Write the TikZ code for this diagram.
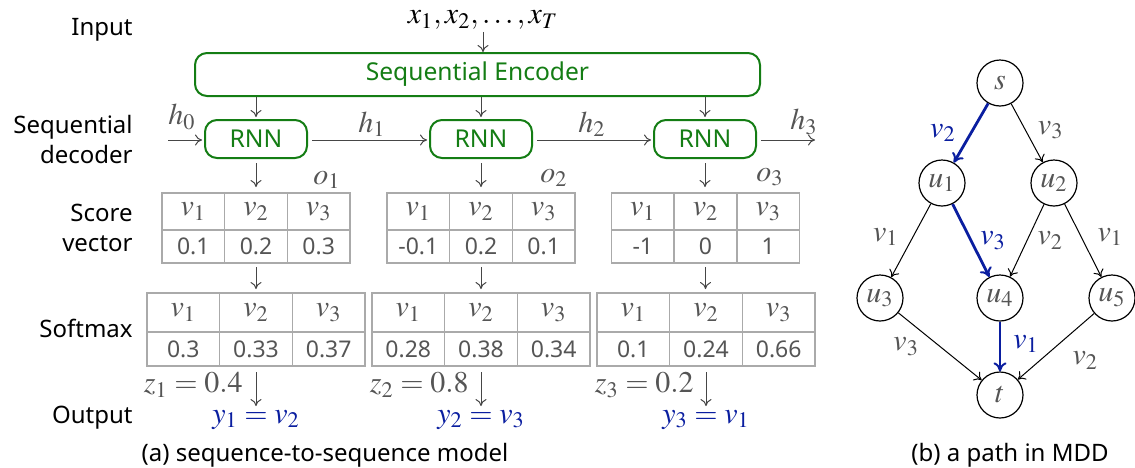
\documentclass[tikz,border=0pt]{standalone}
\usepackage{mathptmx}
\usepackage[no-math]{fontspec}
\setmainfont{Noto Sans}
\usetikzlibrary{arrows.meta,calc}
\definecolor{grn}{RGB}{20,125,20}
\definecolor{pathblue}{RGB}{10,30,160}
\definecolor{txtgray}{RGB}{85,85,85}
\definecolor{linegray}{RGB}{170,170,170}
\definecolor{arrgray}{RGB}{70,70,70}
\tikzset{
  lbl/.style={font=\fontsize{12}{15}\selectfont, anchor=east, align=right, inner sep=0pt},
  mth/.style={font=\fontsize{15}{17}\selectfont, text=txtgray, inner sep=1pt},
  bluemth/.style={font=\fontsize{15}{17}\selectfont, text=pathblue, inner sep=1pt},
  gbox/.style={draw=grn, text=grn, rounded corners=6pt, line width=1pt, font=\fontsize{12.3}{14}\selectfont, inner sep=0pt},
  arr/.style={draw=arrgray, -{To[length=3.5pt,width=5.5pt]}, line width=0.5pt},
  tabframe/.style={inner sep=0pt, outer sep=0pt},
  tcell/.style={draw=linegray, line width=0.7pt, inner sep=0pt, outer sep=0pt, text=txtgray, font=\fontsize{15}{17}\selectfont},
  vcell/.style={font=\fontsize{11.5}{13}\selectfont},
  mddnode/.style={circle, draw=black, line width=0.6pt, minimum size=23pt, inner sep=0pt, text=txtgray, font=\fontsize{15}{17}\selectfont},
  mddedge/.style={draw=black, -{To[length=3.5pt,width=5.5pt]}, line width=0.5pt},
  pathedge/.style={draw=pathblue, -{To[length=4.5pt,width=6.5pt,line width=1pt]}, line width=1.4pt},
  caption/.style={font=\fontsize{12}{14}\selectfont, inner sep=0pt}
}
\newcommand\mktab[9]{%
  \node[tabframe, minimum width={3*#4}, minimum height={#5+#6}, anchor=north] (#1) at (#2,#3) {};
  \foreach \tv [count=\i] in {#7,#8,#9} {
    \node[tcell, minimum width=#4, minimum height=#5, anchor=north west] (#1h\i) at ([xshift={(\i-1)*#4}]#1.north west) {$v_{\i}$};
    \node[tcell, vcell, minimum width=#4, minimum height=#6, anchor=north] (#1v\i) at (#1h\i.south) {\tv};
  }
}
\begin{document}
\begin{tikzpicture}[x=0.5pt,y=-0.5pt]
\useasboundingbox (0,0) rectangle (1135,467);

% left labels
\node[lbl] (lin) at (133,30) {Input};
\node[lbl] (ldec) at (133,139) {Sequential\\decoder};
\node[lbl] (lsc) at (133,228) {Score\\vector};
\node[lbl] (lsm) at (133,328) {Softmax};
\node[lbl] (lout) at (133,418) {Output};

% input and encoder
\node[mth, text=black] (xin) at (483,20) {$x_1, x_2, \ldots, x_T$};
\node[gbox, minimum width=282.5pt, minimum height=21.5pt] (enc) at (477.5,74.5) {Sequential Encoder};
\draw[arr] (xin.south) -- (xin.south |- enc.north);

% RNN cells
\node[gbox, minimum width=51pt, minimum height=19pt] (r1) at (256,139) {RNN};
\node[gbox, minimum width=51pt, minimum height=19pt] (r2) at (481,139) {RNN};
\node[gbox, minimum width=51pt, minimum height=19pt] (r3) at (705,139) {RNN};
\foreach \r in {r1,r2,r3} {
  \draw[arr, shorten >=1pt] (\r.north |- enc.south) -- (\r.north);
}

\coordinate (h0s) at (168,140);
\coordinate (h3e) at (815,140);
\draw[arr, shorten >=1pt] (h0s) -- (r1.west |- h0s);
\draw[arr, shorten <=2pt, shorten >=1pt] (r1.east |- h0s) -- (r2.west |- h0s);
\draw[arr, shorten <=2pt, shorten >=1pt] (r2.east |- h0s) -- (r3.west |- h0s);
\draw[arr, shorten <=2pt] (r3.east |- h3e) -- (h3e);
\node[mth] (h0) at (182,117) {$h_0$};
\node[mth] (h1) at (372,124) {$h_1$};
\node[mth] (h2) at (592,124) {$h_2$};
\node[mth] (h3) at (804,122) {$h_3$};

\node[mth] (o1) at (327,180) {$o_1$};
\node[mth] (o2) at (554,178) {$o_2$};
\node[mth] (o3) at (770,177) {$o_3$};

% score tables
\mktab{sc1}{256}{193}{31.35pt}{18.5pt}{16.5pt}{0.1}{0.2}{0.3}
\mktab{sc2}{481}{193}{31.35pt}{18.5pt}{16.5pt}{-0.1}{0.2}{0.1}
\mktab{sc3}{705.5}{193}{31.35pt}{18.5pt}{16.5pt}{-1}{0}{1}

% softmax tables
\mktab{sm1}{256}{293}{36.35pt}{19.5pt}{17pt}{0.3}{0.33}{0.37}
\mktab{sm2}{481}{293}{36.35pt}{19.5pt}{17pt}{0.28}{0.38}{0.34}
\mktab{sm3}{706}{293}{36.35pt}{19.5pt}{17pt}{0.1}{0.24}{0.66}

% outputs
\node[bluemth] (y1) at (256,420) {$y_1 = v_2$};
\node[bluemth] (y2) at (481,420) {$y_2 = v_3$};
\node[bluemth] (y3) at (706,420) {$y_3 = v_1$};

\draw[arr, shorten <=2pt, shorten >=3pt] (r1.south) -- (r1.south |- sc1.north);
\draw[arr, shorten <=2pt, shorten >=3pt] (r2.south) -- (r2.south |- sc2.north);
\draw[arr, shorten <=2pt, shorten >=3pt] (r3.south) -- (r3.south |- sc3.north);
\draw[arr, shorten <=2pt, shorten >=2pt] (sc1.south) -- (sc1.south |- sm1.north);
\draw[arr, shorten <=2pt, shorten >=2pt] (sc2.south) -- (sc2.south |- sm2.north);
\draw[arr, shorten <=2pt, shorten >=2pt] (sc3.south) -- (sc3.south |- sm3.north);
\draw[arr, shorten <=3pt, shorten >=1pt] (sm1.south) -- (sm1.south |- y1.north);
\draw[arr, shorten <=3pt, shorten >=1pt] (sm2.south) -- (sm2.south |- y2.north);
\draw[arr, shorten <=3pt, shorten >=1pt] (sm3.south) -- (sm3.south |- y3.north);

\node[mth, anchor=east] (z1) at (245,385) {$z_1 = 0.4$};
\node[mth, anchor=east] (z2) at (471,385) {$z_2 = 0.8$};
\node[mth, anchor=east] (z3) at (696,385) {$z_3 = 0.2$};

\node[caption] (capa) at (325,455) {(a) sequence-to-sequence model};

% MDD
\node[mddnode] (s) at (1000,83) {$s$};
\node[mddnode] (u1) at (942,183) {$u_1$};
\node[mddnode] (u2) at (1054,183) {$u_2$};
\node[mddnode] (u3) at (880,298) {$u_3$};
\node[mddnode] (u4) at (1000,298) {$u_4$};
\node[mddnode] (u5) at (1112,298) {$u_5$};
\node[mddnode] (t) at (1000,395) {$t$};

\draw[pathedge] (s) -- (u1) node[bluemth, pos=0.5, left=6pt] {$v_2$};
\draw[mddedge] (s) -- (u2) node[mth, pos=0.45, right=5pt] {$v_3$};
\draw[mddedge] (u1) -- (u3) node[mth, pos=0.45, left=6pt] {$v_1$};
\draw[pathedge] (u1) -- (u4) node[bluemth, pos=0.5, right=3pt] {$v_3$};
\draw[mddedge] (u2) -- (u4) node[mth, pos=0.5, right=4pt] {$v_2$};
\draw[mddedge] (u2) -- (u5) node[mth, pos=0.45, right=7pt] {$v_1$};
\draw[mddedge] (u3) -- (t) node[mth, pos=0.3, below left=1pt] {$v_3$};
\draw[pathedge] (u4) -- (t) node[bluemth, pos=0.45, right=5pt] {$v_1$};
\draw[mddedge] (u5) -- (t) node[mth, pos=0.42, below right=4pt] {$v_2$};

\node[caption] (capb) at (1010,455) {(b) a path in MDD};
\end{tikzpicture}
\end{document}
